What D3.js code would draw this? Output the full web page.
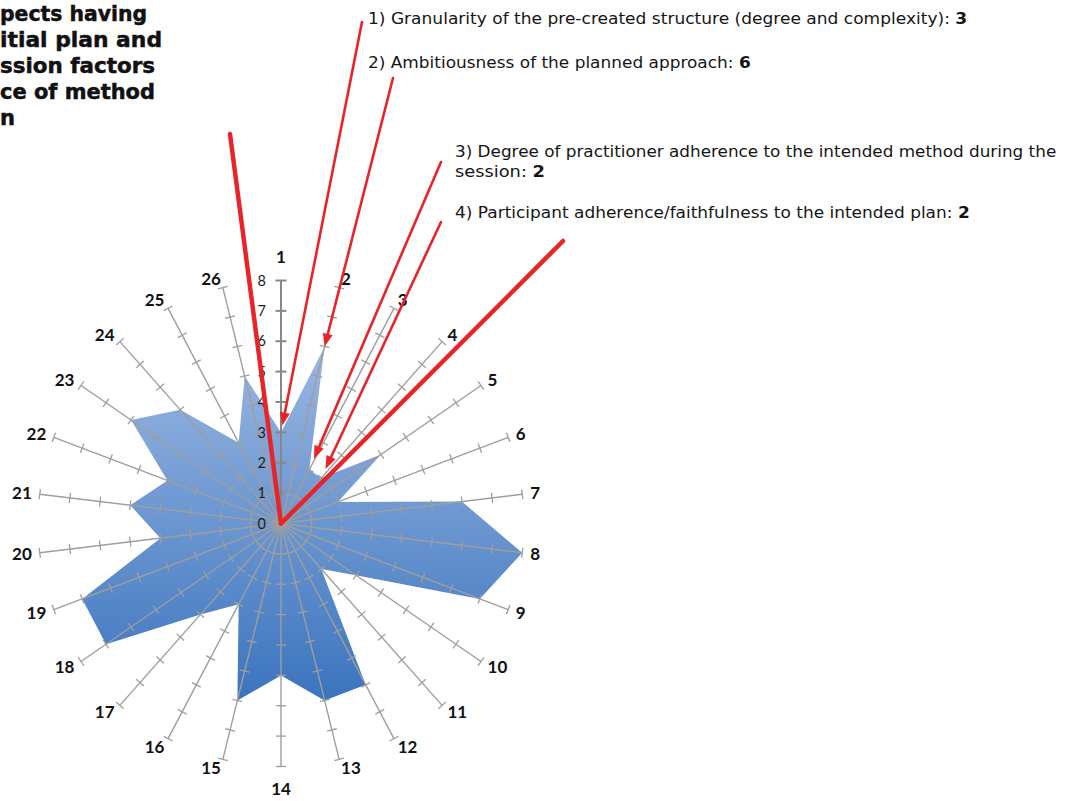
<!DOCTYPE html>
<html>
<head>
<meta charset="utf-8">
<script src="https://cdn.jsdelivr.net/npm/d3@7"></script>
<style>
  html, body { margin: 0; padding: 0; background: #ffffff; }
  svg { display: block; }
</style>
</head>
<body>
<svg id="chart" width="1072" height="801"></svg>
<script>
// ---- data -------------------------------------------------------------
const categories = ["1","2","3","4","5","6","7","8","9","10","11","12","13",
                    "14","15","16","17","18","19","20","21","22","23","24","25","26"];
const scores = [3, 6, 2, 2, 4, 2, 6, 8, 7, 3, 2, 6, 6, 5, 6, 3, 4, 7, 7, 4, 5, 4, 6, 5, 3, 5];
const tickValues = [0, 1, 2, 3, 4, 5, 6, 7, 8];

// heading block, visible tail of each line
const titleLines = [
  "pects having",
  "itial plan and",
  "ssion factors",
  "ce of method",
  "n"
];

// numbered notes: text, bold value, and the spoke each note points at
const noteTexts = [
  ["1) Granularity of the pre-created structure (degree and complexity): "],
  ["2) Ambitiousness of the planned approach: "],
  ["3) Degree of practitioner adherence to the intended method during the", "session: "],
  ["4) Participant adherence/faithfulness to the intended plan: "]
];
const noteValues = ["3", "6", "2", "2"];
const noteAxis = [0, 1, 2, 3];

// ---- layout -----------------------------------------------------------
const width = 1072, height = 801;
const cx = 281, cy = 523.5, R = 243;
const svg = d3.select("#chart");

const r = d3.scaleLinear().domain([0, 8]).range([0, R]);
const step = 2 * Math.PI / categories.length;
const ang = c => categories.indexOf(c) * step;
const px = (a, rad) => cx + Math.sin(a) * rad;
const py = (a, rad) => cy - Math.cos(a) * rad;

// ---- gradient fill ----------------------------------------------------
const defs = svg.append("defs");
const grad = defs.append("linearGradient")
  .attr("id", "areaGrad").attr("x1", 0).attr("y1", 0).attr("x2", 0).attr("y2", 1);
grad.append("stop").attr("offset", 0).attr("stop-color", "#9ab7e2");
grad.append("stop").attr("offset", 1).attr("stop-color", "#3b74be");

const plot = svg.append("g").attr("transform", `translate(${cx},${cy})`);

// ---- filled radar area -------------------------------------------------
const radial = d3.lineRadial()
  .angle((d, i) => ang(categories[i]))
  .radius(d => r(d))
  .curve(d3.curveLinearClosed);

plot.append("path")
  .attr("d", radial(scores))
  .attr("fill", "url(#areaGrad)")
  .attr("stroke", "none");

// ---- spokes with tick marks ---------------------------------------------
const spokes = plot.append("g").attr("class", "spokes");
categories.forEach((c, i) => {
  const a = ang(c);
  const main = i === 0;
  const col = main ? "#878787" : "#9e9e9e";
  const g = spokes.append("g").attr("transform", `rotate(${a * 180 / Math.PI})`);
  g.append("line")
    .attr("x1", 0).attr("y1", 0).attr("x2", 0).attr("y2", -r(8))
    .attr("stroke", col)
    .attr("stroke-width", main ? 2 : 1.4);
  g.selectAll("line.tick")
    .data(tickValues.filter(t => t > 0))
    .join("line")
    .attr("class", "tick")
    .attr("x1", main ? -5.5 : -5).attr("x2", main ? 5.5 : 5)
    .attr("y1", t => -r(t)).attr("y2", t => -r(t))
    .attr("stroke", col)
    .attr("stroke-width", main ? 2 : 1.3);
});

// ---- value labels along spoke 1 ----------------------------------------
plot.append("g")
  .selectAll("text")
  .data(tickValues)
  .join("text")
  .attr("x", -15)
  .attr("y", t => -r(t))
  .attr("dy", "0.36em")
  .attr("text-anchor", "end")
  .attr("font-family", "Lato, 'Open Sans', sans-serif")
  .attr("font-size", 14.5)
  .attr("fill", "#1e1e1e")
  .text(t => t);

// ---- category labels around the rim -------------------------------------
// each label sits just beyond the rim, pushed sideways by half its width
const labelGap = r(8) + 8;
plot.append("g")
  .selectAll("text")
  .data(categories)
  .join("text")
  .attr("font-family", "Lato, 'Open Sans', sans-serif")
  .attr("font-weight", 700)
  .attr("font-size", 17)
  .attr("fill", "#111")
  .attr("text-anchor", "middle")
  .attr("dy", "0.35em")
  .text(d => d)
  .each(function (d) {
    const a = ang(d);
    const s = Math.sin(a), c = Math.cos(a);
    const w = this.getComputedTextLength();
    const vertical = Math.abs(s) < 0.01;
    const x = s * labelGap + (vertical ? 0 : Math.sign(s) * w / 2);
    const y = -c * (vertical ? labelGap + 15 : labelGap + 1);
    d3.select(this).attr("x", x).attr("y", y);
  });

// ---- red pointer lines ----------------------------------------------------
const red = "#e8242b";
const ann = svg.append("g").attr("class", "pointers");

function arrow(x0, y0, x1, y1, shorten, w, head) {
  const dx = x1 - x0, dy = y1 - y0, L = Math.hypot(dx, dy);
  const ux = dx / L, uy = dy / L;
  const tx = x1 - ux * shorten, ty = y1 - uy * shorten;
  const hl = head ? 13 : 0;
  ann.append("line")
    .attr("x1", x0).attr("y1", y0)
    .attr("x2", tx - ux * hl * 0.8).attr("y2", ty - uy * hl * 0.8)
    .attr("stroke", red).attr("stroke-width", w).attr("stroke-linecap", "round");
  if (head) {
    const bx = tx - ux * hl, by = ty - uy * hl, hw = 5;
    ann.append("path")
      .attr("d", `M${tx},${ty}L${bx - uy * hw},${by + ux * hw}L${bx + uy * hw},${by - ux * hw}Z`)
      .attr("fill", red);
  }
}

// note leaders start beside each note and end at the spoke value they describe
const noteStarts = [[362, 22], [393, 78], [441, 162], [441, 222]];
const noteShorten = [7, 0, 12, 10];
noteAxis.forEach((ai, k) => {
  const a = ang(categories[ai]);
  const v = scores[ai];
  arrow(noteStarts[k][0], noteStarts[k][1], px(a, r(v)), py(a, r(v)), noteShorten[k], 2.6, true);
});
// two heavy leaders into the centre of the chart
arrow(230, 134, px(0, r(0)), py(0, r(0)), 0, 4.5, false);
arrow(563, 241, px(0, r(0)), py(0, r(0)), 0, 4.5, false);

// ---- notes text -------------------------------------------------------------
const notesG = svg.append("g")
  .attr("font-family", "'DejaVu Sans', Verdana, sans-serif")
  .attr("font-size", 16)
  .attr("fill", "#141414");

const noteRows = [
  { x: 368, y: 24, parts: [noteTexts[0][0], noteValues[0]], w: 600 },
  { x: 368, y: 68, parts: [noteTexts[1][0], noteValues[1]], w: 383 },
  { x: 455, y: 157, parts: [noteTexts[2][0]], w: 602 },
  { x: 455, y: 177, parts: [noteTexts[2][1], noteValues[2]], w: 90 },
  { x: 455, y: 218, parts: [noteTexts[3][0], noteValues[3]], w: 515 }
];
noteRows.forEach(row => {
  const t = notesG.append("text").attr("x", 0).attr("y", 0);
  row.parts.forEach((p, i) => {
    t.append("tspan").attr("font-weight", i === 1 ? 700 : 400).text(p);
  });
  const actual = t.node().getComputedTextLength();
  t.attr("transform", `translate(${row.x},${row.y}) scale(${row.w / actual},1)`);
});

// ---- heading block at the top left ------------------------------------------
const titleRight = [147, 162, 155, 155, null];
svg.append("g")
  .attr("font-family", "'DejaVu Sans', Verdana, sans-serif")
  .attr("font-weight", 700)
  .attr("font-size", 21)
  .attr("fill", "#111")
  .attr("stroke", "#111")
  .attr("stroke-width", 0.5)
  .selectAll("text")
  .data(titleLines)
  .join("text")
  .attr("x", 0)
  .attr("y", (d, i) => 21 + i * 26)
  .each(function (d, i) {
    if (titleRight[i]) {
      d3.select(this).attr("textLength", titleRight[i]).attr("lengthAdjust", "spacingAndGlyphs");
    }
  })
  .text(d => d);
</script>
</body>
</html>
